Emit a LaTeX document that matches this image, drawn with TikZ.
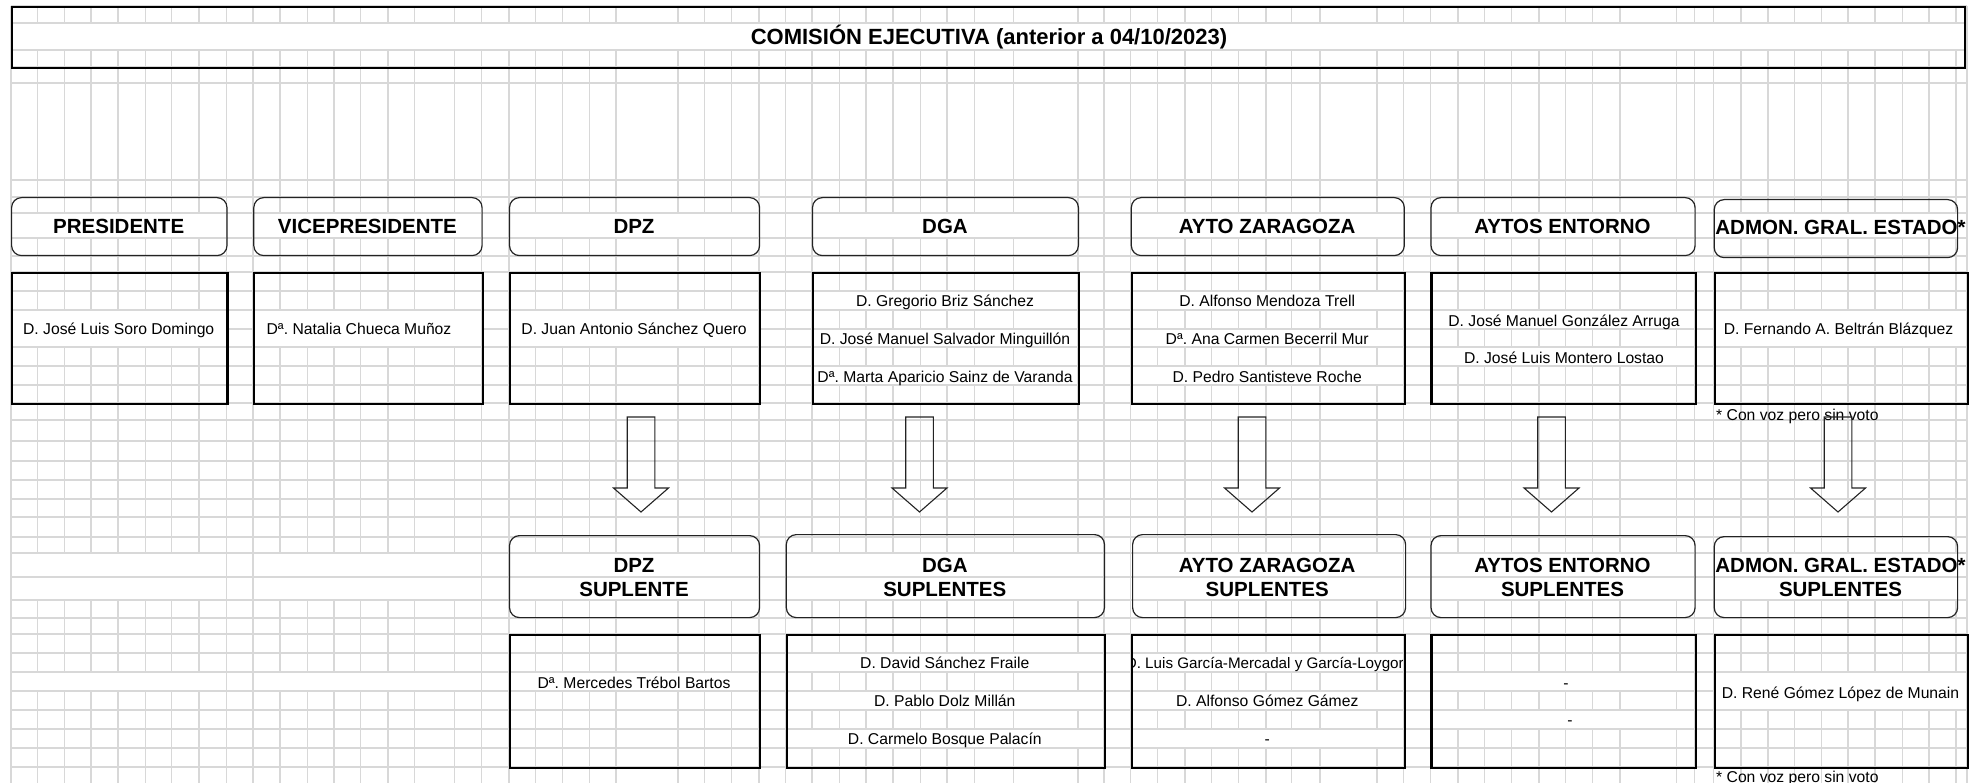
\documentclass[tikz,border=0pt]{standalone}
\usepackage{fontspec}
\setmainfont{Liberation Sans}
\frenchspacing
\definecolor{gridgray}{RGB}{216,216,216}
\definecolor{boxline}{RGB}{35,35,35}
\newcommand{\mband}[4]{\fill[white] (#1+0.9,#3+0.9) rectangle (#2-0.9,#4-0.9);}
\newcommand{\rbox}[6]{\node[#2,inner sep=0pt,minimum width={#5-#3},minimum height={#6-#4},anchor=north west] (#1) at (#3,#4) {};}
\newcommand{\barrow}[2]{\draw[blockarrow] (#2-13.8,417) coordinate (#1) -- (#2+13.8,417) -- (#2+13.8,488) -- (#2+27.5,488) -- (#2,512) -- (#2-27.5,488) -- (#2-13.8,488) -- cycle;}
\def\gridxlist{11,37.6,64.4,91.2,118,145.4,171.6,199,226.4,253.2,280,307.4,334.2,360.3,387.8,414.5,454.7,481.5,508.9,535.7,562.5,589.3,616,678,704.7,731.5,759,785.7,811.9,839.3,866,892.9,920.3,947,974.5,1013.4,1077.8,1103.9,1130.7,1157.5,1184.9,1211.7,1238.5,1265.9,1291.4,1320.1,1376.9,1403.7,1430.4,1457.9,1484.7,1511.4,1538.9,1565.6,1592.4,1619.9,1676.6,1694.5,1713.6,1741,1767.8,1794.6,1821.4,1848.2,1875,1902.4,1929.2,1956,1967}
\def\gridylist{6,23,50,67,83,180,197,213,238,256,272,291,310,329,347,366,385,403,420,441,461,480,499,517,537,553,577,600,618,634,653,672,691,710,729,748,767}
\begin{document}
\begin{tikzpicture}[x=1pt,y=-1pt,
  gridline/.style={draw=gridgray,line width=1.5pt},
  hdrbox/.style={draw=boxline,line width=1.2pt,rounded corners=10pt},
  namebox/.style={draw=black,line width=2.2pt},
  titlebox/.style={draw=black,line width=2.2pt},
  hdrtext/.style={font=\fontsize{20.5}{23.3}\selectfont\bfseries,align=center,inner sep=0pt,anchor=base},
  titletext/.style={font=\fontsize{22}{26}\selectfont\bfseries,inner sep=0pt,anchor=base},
  nametext/.style={font=\fontsize{15.7}{18}\selectfont,inner sep=0pt,anchor=base},
  blockarrow/.style={draw=boxline,line width=1.1pt,line join=miter}]
\useasboundingbox (0,0) rectangle (1977,783);
% ---------- spreadsheet grid ----------
\foreach \x in \gridxlist {\draw[gridline] (\x,6) -- (\x,783);}
\foreach \y in \gridylist {\draw[gridline] (11,\y) -- (1967,\y);}
% merged cells (white bands)
\mband{11}{1967}{23}{50}
\foreach \a/\b in {11/226.4,253.2/481.5,508.9/759,811.9/1077.8,1130.7/1403.7,1430.4/1694.5,1713.6/1967} {\mband{\a}{\b}{213}{238}}
\foreach \a/\b in {11/226.4,253.2/481.5,508.9/759,1713.6/1967} {\mband{\a}{\b}{310}{347}}
\foreach \a/\b in {811.9/1077.8,1130.7/1403.7} {\mband{\a}{\b}{291}{310}\mband{\a}{\b}{329}{347}\mband{\a}{\b}{366}{385}}
\mband{1430.4}{1694.5}{310}{329}\mband{1430.4}{1694.5}{347}{366}
\foreach \a/\b in {11/226.4,253.2/481.5,508.9/759,785.7/1103.9,1130.7/1403.7,1430.4/1694.5,1713.6/1967} {\mband{\a}{\b}{553}{577}\mband{\a}{\b}{577}{600}}
\foreach \a/\b in {11/226.4,253.2/481.5,508.9/759} {\mband{\a}{\b}{672}{691}}
\foreach \a/\b in {785.7/1103.9,1130.7/1403.7} {\mband{\a}{\b}{653}{672}\mband{\a}{\b}{691}{710}\mband{\a}{\b}{729}{748}}
\mband{1430.4}{1694.5}{672}{691}\mband{1430.4}{1694.5}{710}{729}
\mband{1713.6}{1967}{672}{710}
% ---------- title ----------
\rbox{titleBox}{titlebox}{11}{6}{1964}{67}
\node[titletext] (title) at (989,45) {COMISIÓN EJECUTIVA (anterior a 04/10/2023)};
% ---------- top header boxes ----------
\rbox{hPres}{hdrbox}{11}{197}{226.4}{255}
\rbox{hVice}{hdrbox}{253.2}{197}{481.5}{255}
\rbox{hDpz}{hdrbox}{508.9}{197}{759}{255}
\rbox{hDga}{hdrbox}{811.9}{197}{1077.8}{255}
\rbox{hAz}{hdrbox}{1130.7}{197}{1403.7}{255}
\rbox{hAe}{hdrbox}{1430.4}{197}{1694.5}{255}
\rbox{hAdm}{hdrbox}{1713.6}{199}{1957}{257}
\node[hdrtext] (tPres) at (118.7,233.5) {PRESIDENTE};
\node[hdrtext] (tVice) at (367.4,233.5) {VICEPRESIDENTE};
\node[hdrtext] (tDpz) at (634,233.5) {DPZ};
\node[hdrtext] (tDga) at (945,233.5) {DGA};
\node[hdrtext] (tAz) at (1267.2,233.5) {AYTO ZARAGOZA};
\node[hdrtext] (tAe) at (1562.5,233.5) {AYTOS ENTORNO};
\node[hdrtext] (tAdm) at (1840.5,234.5) {ADMON. GRAL. ESTADO*};
% ---------- top name boxes ----------
\rbox{nPres}{namebox}{11}{272}{226.4}{403}
\rbox{nVice}{namebox}{253.2}{272}{481.5}{403}
\rbox{nDpz}{namebox}{508.9}{272}{759}{403}
\rbox{nDga}{namebox}{811.9}{272}{1077.8}{403}
\rbox{nAz}{namebox}{1130.7}{272}{1403.7}{403}
\rbox{nAe}{namebox}{1430.4}{272}{1694.5}{403}
\rbox{nAdm}{namebox}{1713.6}{272}{1967}{403}
\node[nametext] (p1) at (118.7,334.8) {D. José Luis Soro Domingo};
\node[nametext] (v1) at (359,334.8) {Dª. Natalia Chueca Muñoz};
\node[nametext] (d1) at (634,334.8) {D. Juan Antonio Sánchez Quero};
\node[nametext] (g1) at (945,306.7) {D. Gregorio Briz Sánchez};
\node[nametext] (g2) at (945,344.8) {D. José Manuel Salvador Minguillón};
\node[nametext] (g3) at (945,382.8) {Dª. Marta Aparicio Sainz de Varanda};
\node[nametext] (z1) at (1267.2,306.7) {D. Alfonso Mendoza Trell};
\node[nametext] (z2) at (1267.2,344.8) {Dª. Ana Carmen Becerril Mur};
\node[nametext] (z3) at (1267.2,382.8) {D. Pedro Santisteve Roche};
\node[nametext] (e1) at (1564,326.3) {D. José Manuel González Arruga};
\node[nametext] (e2) at (1564,363.8) {D. José Luis Montero Lostao};
\node[nametext] (a1) at (1838.5,334.8) {D. Fernando A. Beltrán Blázquez};
\node[nametext,anchor=base west] (fn1) at (1716,420.5) {* Con voz pero sin voto};
% ---------- block arrows ----------
\barrow{arDpz}{641}
\barrow{arDga}{919.5}
\barrow{arAz}{1252}
\barrow{arAe}{1551.5}
\barrow{arAdm}{1838}
% ---------- bottom header boxes ----------
\rbox{sDpz}{hdrbox}{508.9}{535}{759}{617}
\rbox{sDga}{hdrbox}{785.7}{534}{1103.9}{617}
\rbox{sAz}{hdrbox}{1132}{534}{1405}{617}
\rbox{sAe}{hdrbox}{1430.4}{535}{1694.5}{617}
\rbox{sAdm}{hdrbox}{1713.6}{536}{1957}{617}
\node[hdrtext] (uDpz) at (634,596) {DPZ\\SUPLENTE};
\node[hdrtext] (uDga) at (944.8,596) {DGA\\SUPLENTES};
\node[hdrtext] (uAz) at (1267.2,596) {AYTO ZARAGOZA\\SUPLENTES};
\node[hdrtext] (uAe) at (1562.5,596) {AYTOS ENTORNO\\SUPLENTES};
\node[hdrtext] (uAdm) at (1840.5,596) {ADMON. GRAL. ESTADO*\\SUPLENTES};
% ---------- bottom name boxes ----------
\rbox{mDpz}{namebox}{508.9}{634}{759}{767}
\rbox{mDga}{namebox}{785.7}{634}{1103.9}{767}
\rbox{mAz}{namebox}{1130.7}{634}{1403.7}{767}
\rbox{mAe}{namebox}{1430.4}{634}{1694.5}{767}
\rbox{mAdm}{namebox}{1713.6}{634}{1967}{767}
\node[nametext] (sd1) at (634,688.5) {Dª. Mercedes Trébol Bartos};
\node[nametext] (sg1) at (944.8,668.5) {D. David Sánchez Fraile};
\node[nametext] (sg2) at (944.8,706.5) {D. Pablo Dolz Millán};
\node[nametext] (sg3) at (944.8,744.5) {D. Carmelo Bosque Palacín};
\begin{scope}
\clip (1131.8,653) rectangle (1402.6,672);
\node[nametext,font=\fontsize{15.2}{18}\selectfont] (sz1) at (1269,668.5) {D. Luis García-Mercadal y García-Loygorri};
\end{scope}
\node[nametext] (sz2) at (1267.2,706.5) {D. Alfonso Gómez Gámez};
\node[nametext] (sz3) at (1267.2,744.5) {-};
\node[nametext] (se1) at (1566,688.5) {-};
\node[nametext] (se2) at (1570,725.5) {-};
\node[nametext] (sa1) at (1840.5,698.5) {D. René Gómez López de Munain};
\node[nametext,anchor=base west] (fn2) at (1716,782.5) {* Con voz pero sin voto};
\end{tikzpicture}
\end{document}
